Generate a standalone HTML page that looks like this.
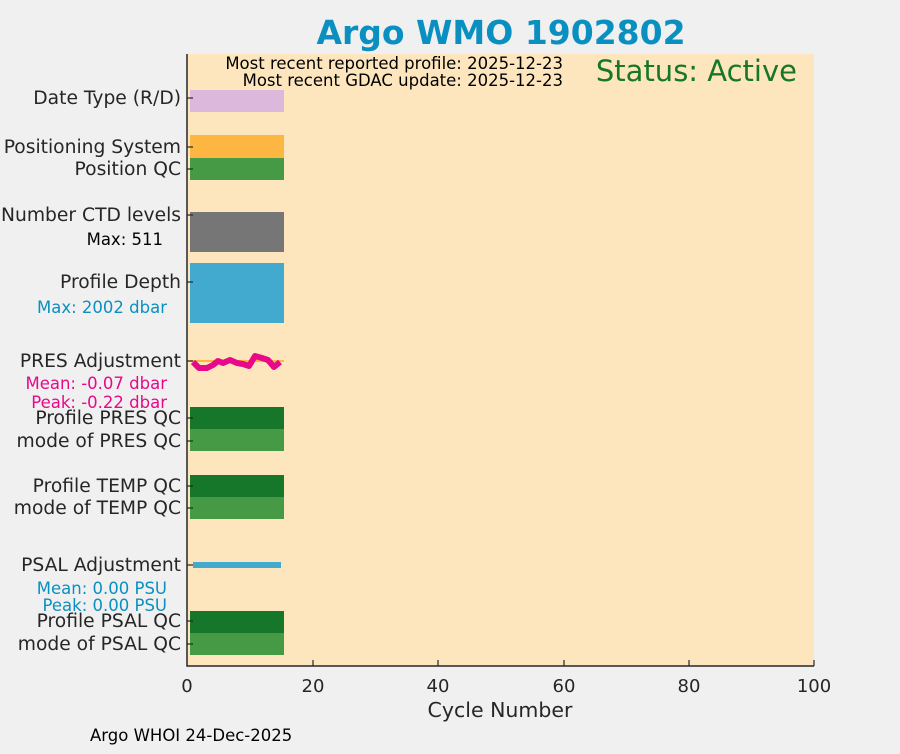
<!DOCTYPE html>
<html><head><style>
body{margin:0;background:#f0f0f0;width:900px;height:750px;overflow:hidden;font-family:"DejaVu Sans","Liberation Sans",sans-serif}
</style></head><body>
<svg width="900" height="750" xmlns="http://www.w3.org/2000/svg" font-family="DejaVu Sans, Liberation Sans, sans-serif">
<rect x="187" y="54" width="627" height="612" fill="#fde6bd"/>
<rect x="190" y="90" width="94" height="22" fill="#dbb8dc"/>
<rect x="190" y="135" width="94" height="23" fill="#fdb642"/>
<rect x="190" y="158" width="94" height="22" fill="#469a46"/>
<rect x="190" y="212" width="94" height="40" fill="#767676"/>
<rect x="190" y="263" width="94" height="60" fill="#42aacf"/>
<line x1="190" y1="361" x2="284" y2="361" stroke="#fdb642" stroke-width="2"/>
<polyline points="193,362 199,368 207,368 213,365 218,361 223,363 230,360 237,363 243,364 249,366 255,356 262,358 268,360 274,367 280,362" fill="none" stroke="#e8088a" stroke-width="6" stroke-linejoin="round"/>
<rect x="190" y="407" width="94" height="22" fill="#16772a"/>
<rect x="190" y="429" width="94" height="22" fill="#469a46"/>
<rect x="190" y="475" width="94" height="22" fill="#16772a"/>
<rect x="190" y="497" width="94" height="22" fill="#469a46"/>
<rect x="193" y="562" width="88" height="6" fill="#42aacf"/>
<rect x="190" y="611" width="94" height="22" fill="#16772a"/>
<rect x="190" y="633" width="94" height="22" fill="#469a46"/>
<path d="M187,54V666H814" fill="none" stroke="#262626" stroke-width="1.5"/>
<g stroke="#262626" stroke-width="1.2">
<line x1="313" y1="666" x2="313" y2="660"/><line x1="438" y1="666" x2="438" y2="660"/><line x1="564" y1="666" x2="564" y2="660"/><line x1="689" y1="666" x2="689" y2="660"/><line x1="814" y1="666" x2="814" y2="660"/>
<line x1="187" y1="98" x2="193" y2="98"/><line x1="187" y1="147" x2="193" y2="147"/><line x1="187" y1="169" x2="193" y2="169"/><line x1="187" y1="215" x2="193" y2="215"/><line x1="187" y1="282" x2="193" y2="282"/><line x1="187" y1="361" x2="193" y2="361"/><line x1="187" y1="418" x2="193" y2="418"/><line x1="187" y1="441" x2="193" y2="441"/><line x1="187" y1="486" x2="193" y2="486"/><line x1="187" y1="508" x2="193" y2="508"/><line x1="187" y1="565" x2="193" y2="565"/><line x1="187" y1="621" x2="193" y2="621"/><line x1="187" y1="644" x2="193" y2="644"/>
</g>
<g font-size="18" fill="#262626" text-anchor="middle">
<text x="187" y="692">0</text><text x="313" y="692">20</text><text x="438" y="692">40</text><text x="564" y="692">60</text><text x="689" y="692">80</text><text x="814" y="692">100</text>
<text x="500" y="717" font-size="20.5">Cycle Number</text>
</g>
<g font-size="18.7" fill="#262626" text-anchor="end">
<text x="181" y="104">Date Type (R/D)</text>
<text x="181" y="153">Positioning System</text>
<text x="181" y="175">Position QC</text>
<text x="181" y="221">Number CTD levels</text>
<text x="181" y="288">Profile Depth</text>
<text x="181" y="367">PRES Adjustment</text>
<text x="181" y="424">Profile PRES QC</text>
<text x="181" y="447">mode of PRES QC</text>
<text x="181" y="492">Profile TEMP QC</text>
<text x="181" y="514">mode of TEMP QC</text>
<text x="181" y="571">PSAL Adjustment</text>
<text x="181" y="627">Profile PSAL QC</text>
<text x="181" y="650">mode of PSAL QC</text>
</g>
<text x="163" y="245" font-size="16.5" fill="#000" text-anchor="end">Max: 511</text>
<text x="167" y="313" font-size="16.5" fill="#0a90c0" text-anchor="end">Max: 2002 dbar</text>
<text x="167" y="389" font-size="16.5" fill="#e8088a" text-anchor="end">Mean: -0.07 dbar</text>
<text x="167" y="408" font-size="16.5" fill="#e8088a" text-anchor="end">Peak: -0.22 dbar</text>
<text x="167" y="594" font-size="16.5" fill="#0a90c0" text-anchor="end">Mean: 0.00 PSU</text>
<text x="167" y="611" font-size="16.5" fill="#0a90c0" text-anchor="end">Peak: 0.00 PSU</text>
<text x="501" y="44" font-size="33" font-weight="bold" fill="#0a90c0" text-anchor="middle">Argo WMO 1902802</text>
<text x="563" y="69" font-size="16.5" fill="#000" text-anchor="end">Most recent reported profile: 2025-12-23</text>
<text x="563" y="86" font-size="16.5" fill="#000" text-anchor="end">Most recent GDAC update: 2025-12-23</text>
<text x="797" y="81" font-size="29" fill="#16772a" text-anchor="end">Status: Active</text>
<text x="90" y="741" font-size="16.5" fill="#000">Argo WHOI 24-Dec-2025</text>
</svg>
</body></html>
